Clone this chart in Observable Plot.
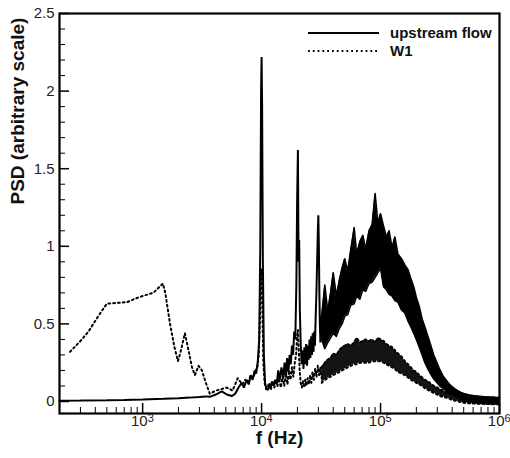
<!DOCTYPE html>
<html><head><meta charset="utf-8">
<script src="https://cdn.jsdelivr.net/npm/d3@7"></script>
<script src="https://cdn.jsdelivr.net/npm/@observablehq/plot@0.6"></script>
<style>body{margin:0;background:#fff}#chart{width:510px;height:458px}</style>
</head><body><div id="chart"></div>
<script>
// ---- data (frequency in Hz, PSD arbitrary scale) ----
const upF = [200,300,500,700,1000,1500,2000,2500,3000,3400,3670,4120,4630,5100,5610,6000,6400,6800,7100,7500,7800,8100,8400,8750,9000,9300,9550,9750,9900,10000,10100,10250,10450,10700,11000,11300,11600,11900,12200,12600,13000,13400,13800,14200,14700,15200,15600,16000,16400,16800,17200,17600,18000,18400,18800,19200,19600,19900,20200,20450,20700,20950,21300,21700,22100,22500,22900,23300,23700,24100,24500,24900,25300,25700,26100,26500,26900,27300,27700,28100,28500,28900,29300,29700,30000,30300,30600,30900,31200,31600,32000];
const upV = [0.005,0.006,0.008,0.010,0.013,0.017,0.021,0.025,0.029,0.033,0.03,0.045,0.065,0.045,0.035,0.05,0.09,0.12,0.09,0.14,0.11,0.17,0.14,0.2,0.18,0.26,0.4,1.0,2.0,2.22,1.9,0.9,0.3,0.12,0.08,0.075,0.1,0.085,0.13,0.1,0.14,0.11,0.2,0.14,0.22,0.15,0.25,0.17,0.28,0.19,0.3,0.24,0.36,0.3,0.45,0.4,0.75,1.3,1.62,0.9,1.04,0.6,0.38,0.24,0.33,0.21,0.35,0.24,0.37,0.23,0.36,0.27,0.4,0.28,0.42,0.3,0.44,0.32,0.45,0.36,0.55,0.7,0.9,1.1,1.2,1.0,0.7,0.5,0.38,0.55,0.42];

const w1F = [245,300,350,400,450,500,600,740,850,1000,1230,1480,1550,1700,1850,1980,2100,2265,2400,2600,2750,2950,3150,3400,3670,4120,4600,5100,5700,6300,6900,7300,7700,8100,8500,8900,9200,9450,9650,9850,10000,10150,10350,10600,10900,11200,11600,12000,12400,12800,13200,13600,14000,14500,15000,15500,16000,16500,17000,17500,18000,18500,19000,19500,19900,20200,20500,20900,21300,21800,22300,22800,23300,23800,24400,25000,25600,26200,26800,27500,28200,29000,29700,30500,31200,32000];
const w1V = [0.32,0.39,0.45,0.52,0.58,0.63,0.635,0.64,0.66,0.68,0.70,0.76,0.70,0.50,0.35,0.26,0.33,0.44,0.35,0.22,0.17,0.23,0.2,0.12,0.05,0.07,0.08,0.09,0.07,0.15,0.11,0.14,0.12,0.17,0.15,0.2,0.22,0.3,0.5,0.8,0.85,0.6,0.25,0.12,0.08,0.09,0.12,0.08,0.13,0.09,0.14,0.1,0.15,0.09,0.16,0.1,0.18,0.11,0.2,0.14,0.22,0.16,0.25,0.3,0.42,0.46,0.35,0.2,0.12,0.09,0.13,0.09,0.14,0.1,0.15,0.11,0.17,0.12,0.19,0.14,0.21,0.16,0.23,0.17,0.22,0.15];

// dense broadband region: envelope of the fluctuating spectra
const bandF = [32000,34000,36000,38000,40000,42500,45000,47500,50000,53000,56000,60000,63000,67000,71000,75000,80000,85000,90000,95000,100000,106000,112000,118000,125000,132000,140000,150000,160000,170000,180000,190000,200000,212000,224000,236000,250000,265000,280000,300000,315000,335000,355000,375000,400000,425000,450000,475000,500000,530000,560000,600000,630000,670000,710000,750000,800000,850000,900000,950000,1000000];
const upHi = [0.55,0.75,0.58,0.70,0.83,0.68,0.78,0.86,0.92,0.84,0.97,1.12,0.95,1.03,1.07,0.98,1.10,1.14,1.34,1.15,1.21,1.13,1.06,1.10,0.99,1.06,0.95,0.92,0.88,0.85,0.79,0.74,0.67,0.61,0.53,0.48,0.42,0.36,0.30,0.245,0.205,0.165,0.14,0.115,0.095,0.08,0.068,0.058,0.052,0.046,0.042,0.038,0.036,0.034,0.032,0.030,0.029,0.028,0.027,0.026,0.025];
const upLo = [0.40,0.34,0.38,0.41,0.44,0.42,0.47,0.50,0.55,0.56,0.62,0.63,0.68,0.66,0.72,0.71,0.76,0.77,0.80,0.83,0.86,0.74,0.72,0.69,0.68,0.65,0.64,0.59,0.57,0.52,0.48,0.44,0.40,0.35,0.30,0.25,0.21,0.175,0.145,0.12,0.10,0.085,0.07,0.055,0.045,0.035,0.025,0.015,0.008,0.002,-0.004,-0.008,-0.010,-0.012,-0.013,-0.014,-0.015,-0.016,-0.016,-0.017,-0.018];
const w1Hi = [0.22,0.25,0.27,0.28,0.31,0.30,0.33,0.35,0.36,0.37,0.36,0.38,0.41,0.38,0.39,0.40,0.39,0.40,0.38,0.41,0.40,0.39,0.37,0.36,0.35,0.33,0.31,0.29,0.26,0.24,0.22,0.20,0.19,0.17,0.155,0.14,0.13,0.115,0.10,0.09,0.08,0.07,0.06,0.055,0.05,0.045,0.04,0.036,0.033,0.031,0.030,0.029,0.028,0.027,0.026,0.026,0.025,0.025,0.024,0.024,0.024];
const w1Lo = [0.12,0.14,0.15,0.16,0.17,0.18,0.19,0.20,0.21,0.22,0.23,0.24,0.24,0.25,0.25,0.25,0.25,0.26,0.26,0.26,0.26,0.25,0.24,0.23,0.22,0.21,0.19,0.18,0.17,0.155,0.14,0.13,0.12,0.11,0.10,0.085,0.075,0.065,0.055,0.045,0.035,0.03,0.025,0.02,0.01,0.005,0.0,-0.005,-0.008,-0.010,-0.012,-0.013,-0.014,-0.015,-0.015,-0.016,-0.016,-0.017,-0.017,-0.018,-0.018];

// axis ticks and labels
const xMajor = [1e3,1e4,1e5,1e6];
const xMajorExp = ["3","4","5","6"];
const xMinor = [300,400,500,600,700,800,900,2000,3000,4000,5000,6000,7000,8000,9000,20000,30000,40000,50000,60000,70000,80000,90000,200000,300000,400000,500000,600000,700000,800000,900000];
const yMajor = [0,0.5,1,1.5,2,2.5];
const yMajorLabels = ["0","0.5","1","1.5","2","2.5"];
const yMinor = [0.1,0.2,0.3,0.4,0.6,0.7,0.8,0.9,1.1,1.2,1.3,1.4,1.6,1.7,1.8,1.9,2.1,2.2,2.3,2.4];
const seriesNames = ["upstream flow","W1"];

const up = upF.map((f,i)=>({f, v: upV[i]}));
const w1 = w1F.map((f,i)=>({f, v: w1V[i]}));
const band = bandF.map((f,i)=>({f, uh: upHi[i], ul: upLo[i], wh: w1Hi[i], wl: w1Lo[i]}));

const W = 510, H = 458, mL = 59, mR = 11, mT = 13, mB = 45;
const pw = W - mL - mR, ph = H - mT - mB;
const font = "'Liberation Sans', Arial, Helvetica, sans-serif";
const dots = "1.8,3";

const plot = Plot.plot({
  width: W, height: H,
  marginLeft: mL, marginRight: mR, marginTop: mT, marginBottom: mB,
  style: {fontFamily: font, background: "white", overflow: "visible"},
  x: {type: "log", domain: [200, 1e6], axis: null},
  y: {domain: [-0.0773, 2.5], axis: null},
  marks: [
    // upstream flow
    Plot.areaY(band, {x: "f", y1: "ul", y2: "uh", fill: "black", curve: "linear"}),
    Plot.line(band, {x: "f", y: "uh", stroke: "black", strokeWidth: 1.6}),
    Plot.line(band, {x: "f", y: "ul", stroke: "black", strokeWidth: 1.6}),
    Plot.line(up, {x: "f", y: "v", stroke: "black", strokeWidth: 2, strokeLinejoin: "miter"}),
    // W1
    Plot.areaY(band, {x: "f", y1: "wl", y2: "wh", fill: "black", fillOpacity: 0.92}),
    Plot.line(band, {x: "f", y: "wh", stroke: "black", strokeWidth: 2, strokeDasharray: dots}),
    Plot.line(band, {x: "f", y: "wl", stroke: "black", strokeWidth: 2, strokeDasharray: dots}),
    Plot.line(w1, {x: "f", y: "v", stroke: "black", strokeWidth: 2, strokeDasharray: dots}),
    // ticks (inward)
    Plot.tickX(xMinor, {x: d => d, insetTop: ph - 6, stroke: "black", strokeWidth: 1}),
    Plot.tickX(xMajor, {x: d => d, insetTop: ph - 10, stroke: "black", strokeWidth: 1.5}),
    Plot.tickY(yMinor, {y: d => d, insetRight: pw - 6, stroke: "black", strokeWidth: 1}),
    Plot.tickY(yMajor, {y: d => d, insetRight: pw - 10, stroke: "black", strokeWidth: 1.5}),
    Plot.frame({stroke: "black", strokeWidth: 2.2}),
    // tick labels
    Plot.text(yMajor, {y: d => d, text: (d, i) => yMajorLabels[i], frameAnchor: "left", dx: -5, textAnchor: "end", fontSize: 15, fill: "#222"}),
    Plot.text(xMajor, {x: d => d, text: () => "10", frameAnchor: "bottom", dy: 12, dx: 5, textAnchor: "end", fontSize: 15, fill: "#222"}),
    Plot.text(xMajor, {x: d => d, text: (d, i) => xMajorExp[i], frameAnchor: "bottom", dy: 8, dx: 5, textAnchor: "start", fontSize: 11, fill: "#222"}),
    // axis titles
    Plot.text(["f (Hz)"], {frameAnchor: "bottom", dy: 30, fontSize: 19, fontWeight: "bold", fill: "#111"}),
    Plot.text(["PSD (arbitrary scale)"], {frameAnchor: "left", dx: -42, dy: -9, rotate: -90, fontSize: 19, fontWeight: "bold", fill: "#111"})
  ]
});

// legend inside the frame
const svg = d3.select(plot);
const lg = svg.append("g").attr("font-family", font).attr("font-weight", "bold").attr("font-size", 15).attr("text-anchor", "start");
const rows = [{y: 33, dash: null}, {y: 51, dash: dots}];
rows.forEach((r, i) => {
  lg.append("line").attr("x1", 308).attr("x2", 379).attr("y1", r.y).attr("y2", r.y)
    .attr("stroke", "black").attr("stroke-width", 2).attr("stroke-dasharray", r.dash);
  lg.append("text").attr("x", 390).attr("y", r.y).attr("dy", "0.35em").attr("fill", "#111").attr("text-anchor", "start").text(seriesNames[i]);
});

document.getElementById("chart").appendChild(plot);
</script>
</body></html>
